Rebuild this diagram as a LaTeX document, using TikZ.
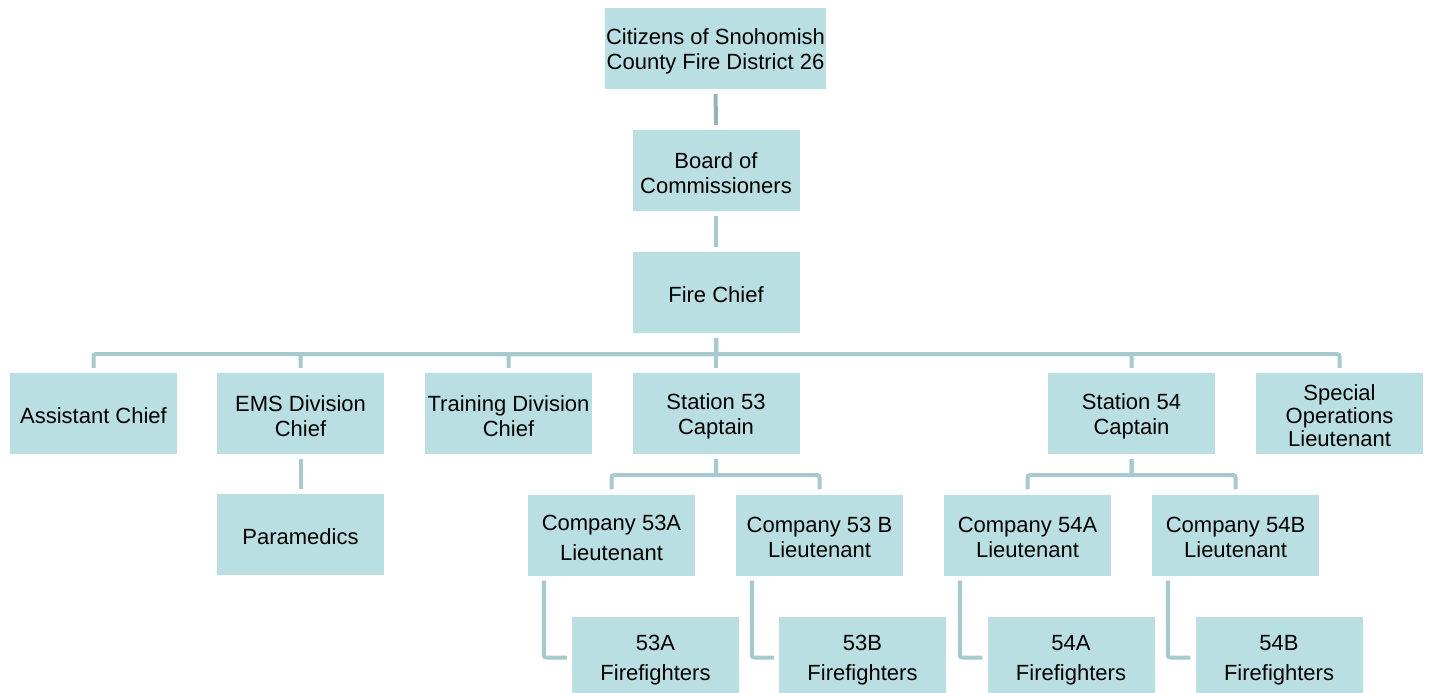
\documentclass[tikz,border=0pt]{standalone}
\usepackage{fontspec}
\setmainfont{Liberation Sans}
\definecolor{boxfill}{HTML}{BADFE3}
\definecolor{conncol}{HTML}{A6CACE}
\definecolor{conndark}{HTML}{94B4B9}
\newcommand\orgbox[4][]{%
  \node[box,#1] (#2) at (#3) {};
  \node[boxtext,#1] at ([yshift=-2.5pt]#2.center) {#4};}
\begin{document}
\begin{tikzpicture}[x=1pt,y=-1pt,
  box/.style={fill=boxfill, draw=none, minimum width=167pt, minimum height=81pt, inner sep=0pt},
  boxtext/.style={align=center, inner sep=0pt, font=\fontsize{22}{25}\selectfont},
  wide/.style={font=\fontsize{22}{30}\selectfont},
  tight/.style={font=\fontsize{22}{23}\selectfont},
  conn/.style={draw=conncol, line width=4pt, shorten <=5pt, shorten >=5pt, rounded corners=2pt}]
\useasboundingbox (0,0) rectangle (1429,693);
\orgbox[minimum width=221pt]{cit}{715.5,48.5}{Citizens of Snohomish\\County Fire District 26}
\orgbox{board}{716,170.5}{Board of\\Commissioners}
\orgbox{chief}{716,292.5}{Fire Chief}
\orgbox{asst}{93.5,413.5}{Assistant Chief}
\orgbox{ems}{300.5,413.5}{EMS Division\\Chief}
\orgbox{train}{508.5,413.5}{Training Division\\Chief}
\orgbox{s53}{716,413.5}{Station 53\\Captain}
\orgbox{s54}{1131.5,413.5}{Station 54\\Captain}
\orgbox[tight]{spec}{1339.5,413.5}{Special\\Operations\\Lieutenant}
\orgbox{para}{300.5,534.5}{Paramedics}
\orgbox[wide]{c53a}{611.5,535}{Company 53A\\Lieutenant}
\orgbox{c53b}{819.5,535}{Company 53 B\\Lieutenant}
\orgbox{c54a}{1027.5,535}{Company 54A\\Lieutenant}
\orgbox{c54b}{1235.5,535}{Company 54B\\Lieutenant}
\orgbox[wide]{f53a}{655.5,657.5}{53A\\Firefighters}
\orgbox[wide]{f53b}{862.5,657.5}{53B\\Firefighters}
\orgbox[wide]{f54a}{1071,657.5}{54A\\Firefighters}
\orgbox[wide]{f54b}{1279,657.5}{54B\\Firefighters}
% connectors
\draw[conn, draw=conndark] (cit) -- (board);
\draw[conn] (board) -- (chief);
\foreach \c in {asst,ems,train,s53,s54,spec}
  \draw[conn] (chief.south) -- ++(0,21) -| (\c.north);
\draw[conn] (ems) -- (para);
\foreach \c in {c53a,c53b}
  \draw[conn] (s53.south) -- ++(0,21) -| (\c.north);
\foreach \c in {c54a,c54b}
  \draw[conn] (s54.south) -- ++(0,21) -| (\c.north);
\draw[conn] ([xshift=16pt]c53a.south west) |- (f53a.west);
\draw[conn] ([xshift=16pt]c53b.south west) |- (f53b.west);
\draw[conn] ([xshift=16pt]c54a.south west) |- (f54a.west);
\draw[conn] ([xshift=16pt]c54b.south west) |- (f54b.west);
\end{tikzpicture}
\end{document}
